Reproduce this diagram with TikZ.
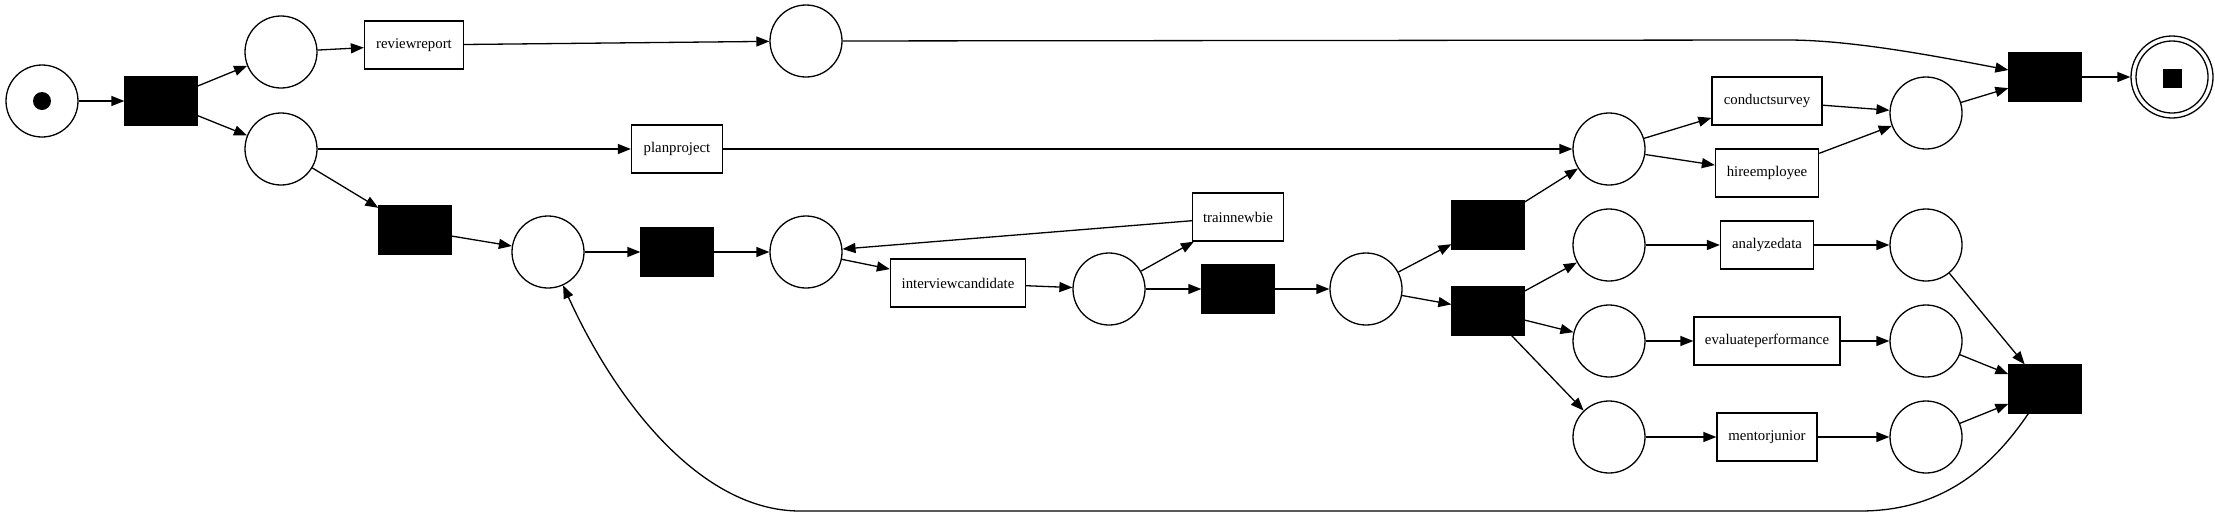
\documentclass[tikz,border=0pt]{standalone}
\usepackage{fontspec}
\setmainfont{Liberation Serif}
\usetikzlibrary{arrows.meta}
\begin{document}
\begin{tikzpicture}[x=1pt,y=-1pt,line width=1.3pt,
  place/.style={circle,draw,minimum size=72pt,inner sep=0pt},
  trans/.style={rectangle,fill=black,draw=black,minimum width=72pt,minimum height=48pt,inner sep=0pt},
  act/.style={rectangle,draw,minimum height=48pt,inner sep=0pt,font=\fontsize{14.8}{16}\selectfont},
  arc/.style={-{Triangle[length=13pt,width=10pt]}}
]
\useasboundingbox (0,0) rectangle (2215,520);
% nodes
\node[place] (start) at (42,101) {};
\node[circle,fill=black,minimum size=18pt,inner sep=0pt] (tok1) at (42,101) {};
\node[trans] (t1) at (161,101) {};
\node[place] (pa) at (281,52) {};
\node[place] (pb) at (281,149) {};
\node[act,minimum width=99pt] (rr) at (414,45) {reviewreport};
\node[place] (ptop) at (806,41) {};
\node[act,minimum width=91pt] (pp) at (677,149) {planproject};
\node[trans] (t2) at (415,230) {};
\node[place] (pc) at (548,252) {};
\node[trans] (t3) at (677,252) {};
\node[place] (pd) at (806,252) {};
\node[act,minimum width=135pt] (ic) at (958,283) {interviewcandidate};
\node[place] (pe) at (1109,289) {};
\node[act,minimum width=91pt] (tn) at (1238,217) {trainnewbie};
\node[trans] (t4) at (1238,289) {};
\node[place] (pf) at (1366,289) {};
\node[trans] (t5) at (1488,225) {};
\node[trans] (t6) at (1488,311) {};
\node[place] (pg) at (1609,149) {};
\node[act,minimum width=110pt] (cs) at (1767,101) {conductsurvey};
\node[act,minimum width=103pt] (he) at (1767,173) {hireemployee};
\node[place] (ph) at (1926,113) {};
\node[trans] (t7) at (2045,77) {};
\node[place,minimum size=82pt] (endo) at (2172,77) {};
\node[place] (endi) at (2172,77) {};
\node[rectangle,fill=black,minimum size=19pt,inner sep=0pt] (tok2) at (2172,78) {};
\node[place] (pi) at (1609,245) {};
\node[act,minimum width=93pt] (ad) at (1767,245) {analyzedata};
\node[place] (pj) at (1926,245) {};
\node[place] (pk) at (1609,341) {};
\node[act,minimum width=146pt] (ep) at (1767,341) {evaluateperformance};
\node[place] (pl) at (1926,341) {};
\node[place] (pm) at (1609,437) {};
\node[act,minimum width=100pt] (mj) at (1767,437) {mentorjunior};
\node[place] (pn) at (1926,437) {};
\node[trans] (t8) at (2045,389) {};
\coordinate (c1) at (1787,40);
\coordinate (c2) at (1860,511);
\coordinate (c3) at (800,511);
% arcs
\draw[arc] (start) -- (t1);
\draw[arc] (t1) -- (pa);
\draw[arc] (t1) -- (pb);
\draw[arc] (pa) -- (rr);
\draw[arc] (rr) -- (ptop);
\draw[arc] (ptop) -- (c1) .. controls (1850,40) and (1930,55) .. (t7);
\draw[arc] (pb) -- (pp);
\draw[arc] (pp) -- (pg);
\draw[arc] (pb) -- (t2);
\draw[arc] (t2) -- (pc);
\draw[arc] (pc) -- (t3);
\draw[arc] (t3) -- (pd);
\draw[arc] (pd) -- (ic);
\draw[arc] (ic) -- (pe);
\draw[arc] (pe) -- (tn);
\draw[arc] (tn) -- (pd);
\draw[arc] (pe) -- (t4);
\draw[arc] (t4) -- (pf);
\draw[arc] (pf) -- (t5);
\draw[arc] (pf) -- (t6);
\draw[arc] (t5) -- (pg);
\draw[arc] (pg) -- (cs);
\draw[arc] (pg) -- (he);
\draw[arc] (cs) -- (ph);
\draw[arc] (he) -- (ph);
\draw[arc] (ph) -- (t7);
\draw[arc] (t7) -- (endo);
\draw[arc] (t6) -- (pi);
\draw[arc] (t6) -- (pk);
\draw[arc] (t6) -- (pm);
\draw[arc] (pi) -- (ad);
\draw[arc] (ad) -- (pj);
\draw[arc] (pk) -- (ep);
\draw[arc] (ep) -- (pl);
\draw[arc] (pm) -- (mj);
\draw[arc] (mj) -- (pn);
\draw[arc] (pj) -- (t8);
\draw[arc] (pl) -- (t8);
\draw[arc] (pn) -- (t8);
\draw[arc] (t8) .. controls (1990,470) and (1940,511) .. (c2) -- (c3) .. controls (700,511) and (615,400) .. (pc);
\end{tikzpicture}
\end{document}
